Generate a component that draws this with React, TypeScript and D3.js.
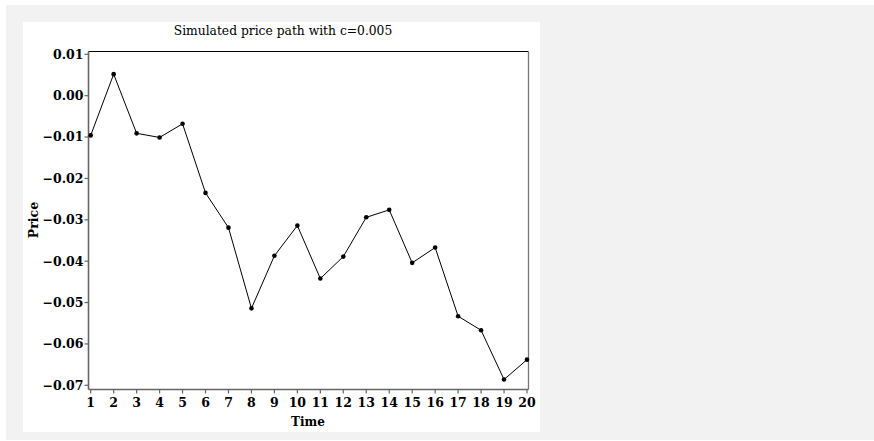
import React from "react";
import * as d3 from "d3";

const times: number[] = [1, 2, 3, 4, 5, 6, 7, 8, 9, 10, 11, 12, 13, 14, 15, 16, 17, 18, 19, 20];
const prices: number[] = [
  -0.0096, 0.0052, -0.0091, -0.0101, -0.0068, -0.0235, -0.0319, -0.0514, -0.0387, -0.0314,
  -0.0442, -0.0389, -0.0294, -0.0276, -0.0404, -0.0367, -0.0533, -0.0567, -0.0686, -0.0638,
];
const yTicks: number[] = [0.01, 0.0, -0.01, -0.02, -0.03, -0.04, -0.05, -0.06, -0.07];
const title = "Simulated price path with c=0.005";
const xLabel = "Time";
const yLabel = "Price";

const W = 874;
const H = 441;
const plotLeft = 88.5;
const plotRight = 528.5;
const plotTop = 51.5;
const plotBottom = 389.5;

export default function App() {
  const x = d3.scaleLinear().domain([1, 20]).range([90.7, 527]);
  const y = d3.scaleLinear().domain([0.01, -0.07]).range([54.3, 385.3]);
  const line = d3
    .line<number>()
    .x((_, i) => x(times[i]))
    .y((d) => y(d));
  const fmt = (v: number) => {
    const s = d3.format(".2f")(Math.abs(v));
    return v < -1e-9 ? "\u2212" + s : s;
  };
  const font = "'DejaVu Serif', 'Liberation Serif', serif";
  return (
    <svg
      width={W}
      height={H}
      style={{ position: "absolute", left: 0, top: 0, display: "block" }}
      fontFamily={font}
    >
      <rect x={0} y={0} width={W} height={H} fill="#ffffff" />
      <rect x={6} y={5} width={W - 6} height={435} fill="#f2f2f2" />
      <rect x={23} y={22} width={517} height={410} fill="#ffffff" />
      <text x={283} y={35} textAnchor="middle" fontSize={12.3} fill="#000">
        {title}
      </text>
      {/* frame */}
      <line x1={plotLeft} x2={plotRight} y1={plotTop} y2={plotTop} stroke="#000" strokeWidth={1} />
      <line x1={plotRight} x2={plotRight} y1={plotTop} y2={plotBottom} stroke="#777" strokeWidth={1.3} />
      <line x1={plotLeft} x2={plotLeft} y1={plotTop} y2={plotBottom} stroke="#666" strokeWidth={1.6} />
      <line x1={plotLeft} x2={plotRight} y1={plotBottom} y2={plotBottom} stroke="#666" strokeWidth={1.6} />
      {/* y ticks */}
      {yTicks.map((t) => (
        <g key={t}>
          <line x1={plotLeft - 4} x2={plotLeft} y1={y(t)} y2={y(t)} stroke="#666" strokeWidth={1.2} />
          <text
            x={plotLeft - 5}
            y={y(t)}
            dy="0.35em"
            textAnchor="end"
            fontSize={12.5}
            fontWeight="bold"
            fill="#000"
          >
            {fmt(t)}
          </text>
        </g>
      ))}
      {/* x ticks */}
      {times.map((t) => (
        <g key={t}>
          <line x1={x(t)} x2={x(t)} y1={plotBottom} y2={plotBottom + 4} stroke="#666" strokeWidth={1.2} />
          <text x={x(t)} y={407} textAnchor="middle" fontSize={12.5} fontWeight="bold" fill="#000">
            {t}
          </text>
        </g>
      ))}
      <text x={308} y={426} textAnchor="middle" fontSize={12} fontWeight="bold" fill="#000">
        {xLabel}
      </text>
      <text
        transform={`translate(38,220) rotate(-90)`}
        textAnchor="middle"
        fontSize={12.5}
        fontWeight="bold"
        fill="#000"
      >
        {yLabel}
      </text>
      <path d={line(prices) || ""} fill="none" stroke="#000" strokeWidth={1} />
      {prices.map((p, i) => (
        <circle key={i} cx={x(times[i])} cy={y(p)} r={2.3} fill="#000" />
      ))}
    </svg>
  );
}
